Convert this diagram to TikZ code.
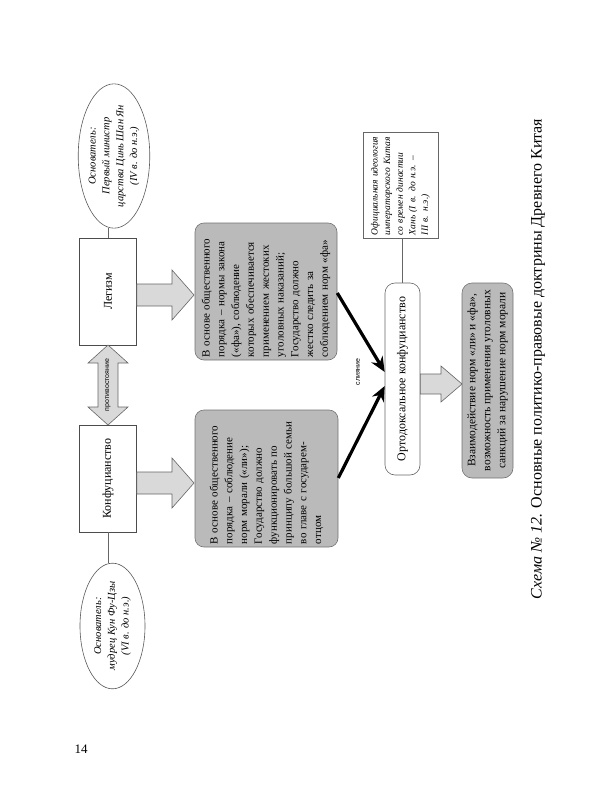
\documentclass[tikz,border=0pt]{standalone}
\usepackage{fontspec}
\setmainfont{Liberation Serif}
\newfontfamily\labelsans{Liberation Sans}
\usetikzlibrary{shapes.geometric,arrows.meta,calc}
\begin{document}
\begin{tikzpicture}[x=1pt,y=-1pt,
  whitebox/.style={draw=black!70, fill=white, line width=0.6pt, rotate=90, inner sep=0pt, font=\fontsize{12}{14}\selectfont, align=center},
  graybox/.style={draw=black!55, fill=black!27, rounded corners=9pt, rotate=90, line width=0.6pt, inner sep=0pt, font=\fontsize{11}{14.8}\selectfont, align=left},
  resbox/.style={draw=black!55, fill=black!27, rounded corners=10pt, rotate=90, line width=0.6pt, inner sep=0pt, font=\fontsize{11.5}{15}\selectfont, align=center},
  ortbox/.style={draw=black!60, fill=white, rounded corners=10pt, rotate=90, line width=0.6pt, inner sep=0pt, font=\fontsize{12}{14}\selectfont, align=center},
  notebox/.style={draw=black!60, fill=white, rotate=90, line width=0.6pt, inner sep=0pt, font=\itshape\fontsize{9.5}{12.6}\selectfont, align=left},
  founder/.style={ellipse, draw=black!65, fill=white, rotate=90, inner sep=0pt, line width=0.6pt, font=\itshape\fontsize{10.5}{13.8}\selectfont, align=center},
  blockarrow/.style={draw=black!60, fill=black!15, line width=0.6pt, line join=miter},
  thinline/.style={draw=black!60, line width=0.6pt},
  thickarrow/.style={line width=3.2pt, -{Stealth[length=15pt,width=13pt]}},
  smalllabel/.style={rotate=90, font=\labelsans\fontsize{7}{7}\selectfont, inner sep=0pt}
]
\useasboundingbox (0,0) rectangle (600,800);

% founders
\node[founder, minimum width=100pt, minimum height=66pt] (f1) at (114,156)
  {Основатель:\\Первый министр\\царства Цинь Шан Ян\\(IV в. до н.э.)};
\node[founder, minimum width=96pt, minimum height=65pt] (f2) at (112.5,626)
  {Основатель:\\мудрец Кун Фу-Цзы\\(VI в. до н.э.)};

% doctrines
\node[whitebox, minimum width=107pt, minimum height=57pt] (leg) at (108,291.5) {Легизм};
\node[whitebox, minimum width=107pt, minimum height=57pt] (conf) at (108,478.5) {Конфуцианство};

\draw[thinline] (leg.east) -- (leg.east |- f1.west);
\draw[thinline] (conf.west) -- (conf.west |- f2.east);

% opposition double arrow
\draw[blockarrow] (108,345) -- (88,363) -- (98,363) -- (98,407) -- (88,407) -- (108,425)
  -- (128,407) -- (118,407) -- (118,363) -- (128,363) -- cycle;
\node[smalllabel] (opp) at (108,385) {противостояние};

% gray content boxes
\node[graybox, minimum width=137pt, minimum height=142pt, text width=131pt] (g1) at (266,291.5)
  {В основе общественного\\порядка – нормы закона\\(«фа»), соблюдение\\которых обеспечивается\\применением жестоких\\уголовных наказаний;\\Государство должно\\жестко следить за\\соблюдением норм «фа»};
\node[graybox, minimum width=137pt, minimum height=143pt, text width=131pt] (g2) at (266.5,478.5)
  {В основе общественного\\порядка – соблюдение\\норм морали («ли»);\\Государство должно\\функционировать по\\принципу большой семьи\\во главе с государем-\\отцом};

% block arrows doctrine -> content
\draw[blockarrow] (leg.south |- 0,284) -- (172,284) -- (172,270) -- (194,295) -- (172,320) -- (172,306) -- (leg.south |- 0,306) -- cycle;
\draw[blockarrow] (conf.south |- 0,472) -- (172,472) -- (172,458) -- (194,483) -- (172,508) -- (172,494) -- (conf.south |- 0,494) -- cycle;

% orthodox confucianism
\node[ortbox, minimum width=192pt, minimum height=35pt] (ort) at (402.5,379) {Ортодоксальное конфуцианство};
\node[notebox, minimum width=106pt, minimum height=75pt, text width=100pt] (note) at (400.5,185)
  {Официальная идеология\\императорского Китая\\со времен династии\\Хань (I в. до н.э. –\\III в. н.э.)};
\draw[thinline] (ort.east) -- (ort.east |- note.west);

% merging arrows
\draw[thickarrow] (g1.south |- 0,293) -- ($(ort.north)+(0,-7)$);
\draw[thickarrow] (g2.south |- 0,478) -- ($(ort.north)+(0,7)$);
\node[smalllabel] (merge) at (358,372) {слияние};

% result
\node[resbox, minimum width=195pt, minimum height=51pt] (res) at (487.5,380.5)
  {Взаимодействие норм «ли» и «фа»,\\возможность применения уголовных\\санкций за нарушение норм морали};
\draw[blockarrow] (ort.south |- 0,374) -- (441,374) -- (441,366) -- (462,384) -- (441,402) -- (441,394) -- (ort.south |- 0,394) -- cycle;

% caption
\node[rotate=90, font=\fontsize{16}{16}\selectfont, inner sep=0pt] (cap) at (538,359)
  {\textit{Схема № 12.} Основные политико-правовые доктрины Древнего Китая};

\node[font=\fontsize{13}{13}\selectfont, inner sep=0pt] (page) at (81,749) {14};
\end{tikzpicture}
\end{document}
